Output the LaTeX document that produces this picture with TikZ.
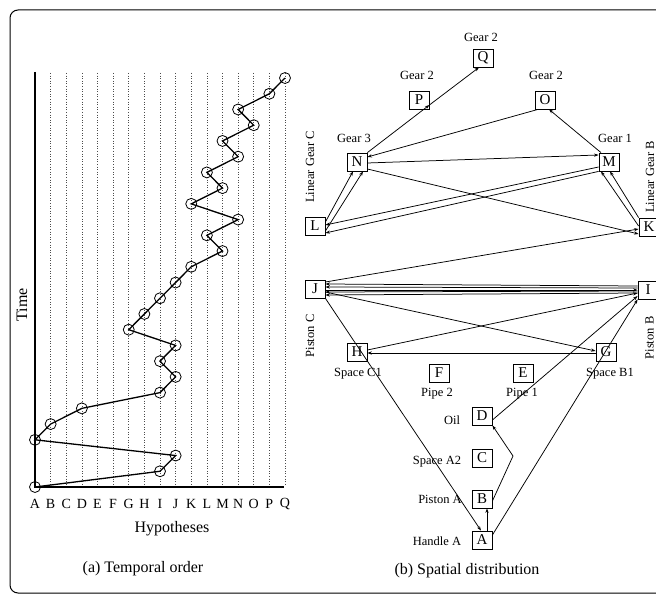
\documentclass[tikz,border=0pt]{standalone}
\usepackage{fontspec}
\setmainfont{Liberation Serif}
\usetikzlibrary{arrows.meta}
\begin{document}
\begin{tikzpicture}[x=1pt,y=-1pt,
  box/.style={draw, line width=0.8pt, minimum width=20pt, minimum height=18pt, inner sep=0pt, font=\fontsize{15}{15}\selectfont},
  lab/.style={inner sep=0pt, font=\fontsize{12.5}{12.5}\selectfont},
  title/.style={inner sep=0pt, font=\fontsize{16}{16}\selectfont},
  hyp/.style={inner sep=0pt, font=\fontsize{14}{14}\selectfont},
  edge/.style={line width=0.75pt, -{Stealth[length=4.5pt,width=3.2pt]}},
  tp/.style={circle, draw, line width=0.8pt, minimum size=11pt, inner sep=0pt},
  gridline/.style={dotted, line width=0.6pt, black!70},
  axis/.style={line width=1.3pt}]
\clip (0,0) rectangle (656,596);
\fill[white] (0,0) rectangle (656,596);
\draw[line width=1pt, rounded corners=8pt] (10,10) rectangle (690,593);

% ---------- (a) Temporal order ----------
\foreach \i in {1,...,16} \draw[gridline] ({35+15.625*\i},73) -- ({35+15.625*\i},486);
\draw[axis] (35,72) -- (35,487) -- (284,487);
\foreach \l [count=\i from 0] in {A,B,C,D,E,F,G,H,I,J,K,L,M,N,O,P,Q}
  \node[hyp] (h\l) at ({35+15.625*\i},504) {\l};
\node[title] (hyptitle) at (172,529) {Hypotheses};
\node[title, rotate=90] (timelab) at (22,305) {Time};
\node[title] (capa) at (143,569) {(a) Temporal order};
\foreach \h [count=\k from 0] in {0,8,9,0,1,3,8,9,8,9,6,7,8,9,10,12,11,13,10,12,11,13,12,14,13,15,16}
  \node[tp] (t\k) at ({35+15.625*\h},{487-15.73*\k}) {};
\draw[line width=1.3pt] (t0.center) \foreach \k in {1,...,26} { -- (t\k.center) };

% ---------- (b) Spatial distribution ----------
\node[box] (Q) at (483,58) {Q};
\node[box] (P) at (419,100) {P};
\node[box] (O) at (545,100) {O};
\node[box] (N) at (357,162) {N};
\node[box] (M) at (609,162) {M};
\node[box] (L) at (315,226) {L};
\node[box] (K) at (649,227) {K};
\node[box] (J) at (315,289) {J};
\node[box] (I) at (648,290) {I};
\node[box] (H) at (357,352) {H};
\node[box] (G) at (606,352) {G};
\node[box] (F) at (439,373) {F};
\node[box] (E) at (523,373) {E};
\node[box] (D) at (482,416) {D};
\node[box] (C) at (482,458) {C};
\node[box] (B) at (482,499) {B};
\node[box] (A) at (482,540) {A};

\node[lab] (lQ) at (481,37) {Gear 2};
\node[lab] (lP) at (417,75) {Gear 2};
\node[lab] (lO) at (546,75) {Gear 2};
\node[lab] (lN) at (354,138) {Gear 3};
\node[lab] (lM) at (615,138) {Gear 1};
\node[lab, rotate=90] (lL) at (310,167) {Linear Gear C};
\node[lab, rotate=90] (lK) at (650,177) {Linear Gear B};
\node[lab, rotate=90] (lJ) at (310,336) {Piston C};
\node[lab, rotate=90] (lI) at (649.5,338) {Piston B};
\node[lab] (lH) at (358,374) {Space C1};
\node[lab] (lG) at (610,374) {Space B1};
\node[lab] (lF) at (437,394) {Pipe 2};
\node[lab] (lE) at (522,394) {Pipe 1};
\node[lab] (lD) at (452,420) {Oil};
\node[lab] (lC) at (437,462) {Space A2};
\node[lab] (lB) at (440,499) {Piston A};
\node[lab] (lA) at (437,541) {Handle A};
\node[title] (capb) at (467,571) {(b) Spatial distribution};

\coordinate (bd) at (513,456);

% edges
\draw[edge] (N.north east) -- ([yshift=-5pt]P.east);
\draw[edge] ([yshift=-5pt]P.east) -- ([xshift=-4pt]Q.south);
\draw[edge] ([xshift=-8pt]M.north) -- ([xshift=4pt]O.south);
\draw[edge] ([xshift=-7pt]O.south) -- ([yshift=5pt]N.east);
\draw[edge] ([yshift=-1pt]N.east) -- ([yshift=7pt]M.west);
\draw[edge] ([yshift=-7pt]N.east) -- ([yshift=-7pt]K.west);
\draw[edge] ([yshift=4pt]L.east) -- ([xshift=-4pt]N.south);
\draw[edge] ([yshift=-5pt]L.east) -- ([xshift=6pt]N.south);
\draw[edge] ([yshift=-5pt]M.west) -- ([yshift=1pt]L.east);
\draw[edge] (M.south west) -- ([yshift=-7pt]L.east);
\draw[edge] ([yshift=1pt]K.west) -- ([xshift=-8pt]M.south);
\draw[edge] (K.north west) -- ([xshift=1pt]M.south);
\draw[edge] ([yshift=7pt]J.east) -- ([yshift=-2pt]K.west);
\draw[edge] ([yshift=4pt]I.west) -- ([yshift=5pt]J.east);
\draw[edge] ([yshift=2pt]I.west) -- ([yshift=2pt]J.east);
\draw[edge] ([yshift=-1pt]J.east) -- ([yshift=0pt]I.west);
\draw[edge] ([yshift=-1pt]I.west) -- ([yshift=-3pt]J.east);
\draw[edge] ([yshift=-3pt]I.west) -- ([yshift=-6pt]J.east);
\draw[edge] ([yshift=-3pt]J.east) -- ([yshift=1pt]G.west);
\draw[edge] ([yshift=-1pt]G.west) -- ([yshift=-1pt]H.east);
\draw[edge] ([yshift=2pt]H.east) -- ([yshift=-3pt]I.west);
\draw[edge] (J.south east) -- ([xshift=-1pt]A.north);
\draw[edge] ([xshift=5pt]A.north) -- ([xshift=5pt]B.south);
\draw[edge] ([yshift=-2pt]B.east) -- (bd) -- (D.south east);
\draw[edge] ([yshift=-4pt]D.east) -- ([yshift=-6pt]I.west);
\draw[edge] ([yshift=5pt]A.east) -- (I.south west);
\end{tikzpicture}
\end{document}
